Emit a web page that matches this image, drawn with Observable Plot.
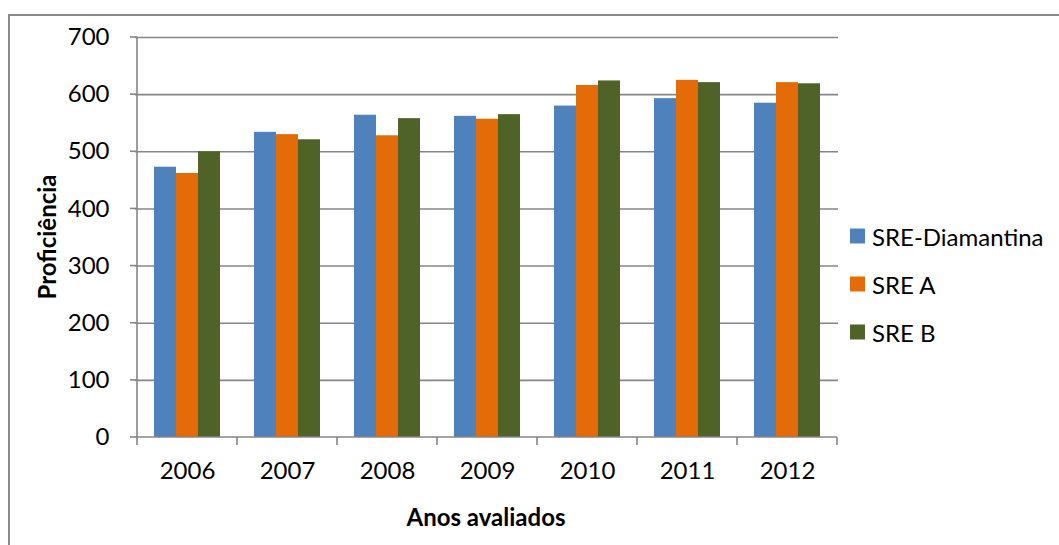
<!DOCTYPE html>
<html>
<head>
<meta charset="utf-8">
<script src="https://cdn.jsdelivr.net/npm/d3@7"></script>
<script src="https://cdn.jsdelivr.net/npm/@observablehq/plot@0.6"></script>
<style>
  html, body { margin: 0; padding: 0; background: #fff; }
  body { width: 1059px; height: 545px; position: relative; overflow: hidden; font-family: Lato, "Open Sans", sans-serif; }
  #border { position: absolute; left: 8px; top: 14px; width: 1200px; height: 700px; border-left: 2px solid #8a8a8a; border-top: 2px solid #8a8a8a; }
  #chart { position: absolute; left: 0; top: 0; }
  .ytitle { position: absolute; left: 46px; top: 237px; transform: translate(-50%, -50%) rotate(-90deg); font-weight: bold; font-size: 24px; white-space: nowrap; color: #000; }
  .xtitle { position: absolute; left: 486px; top: 516px; transform: translate(-50%, -50%); font-weight: bold; font-size: 24px; white-space: nowrap; color: #000; }
  .legend { position: absolute; left: 850px; top: 0; }
  .legend .item { position: absolute; left: 0; display: flex; align-items: center; white-space: nowrap; font-size: 24px; color: #000; transform: translateY(-50%); }
  .legend .sw { width: 15px; height: 15px; margin-right: 7px; }
</style>
</head>
<body>
<div id="border"></div>
<div id="chart"></div>
<div class="ytitle">Proficiência</div>
<div class="xtitle">Anos avaliados</div>
<div class="legend" id="legend"></div>
<script>
const years = ["2006", "2007", "2008", "2009", "2010", "2011", "2012"];
const seriesNames = ["SRE-Diamantina", "SRE A", "SRE B"];
const sreDiamantina = [473, 534, 564, 562, 580, 593, 585];
const sreA = [462, 530, 528, 557, 616, 625, 621];
const sreB = [500, 521, 558, 565, 624, 621, 619];
const colors = ["#4f81bd", "#e36c09", "#4f6228"];
const yTicks = [0, 100, 200, 300, 400, 500, 600, 700];

const seriesValues = [sreDiamantina, sreA, sreB];
const data = [];
years.forEach((y, i) => seriesNames.forEach((s, j) => data.push({year: y, series: s, value: seriesValues[j][i]})));

const W = 1059, H = 545;
const mL = 135, mR = 221, mT = 37, mB = 108;
const axisColor = "#868686";

function axesAndTicks(index, scales, values, dimensions) {
  const x = scales.x, y = scales.y;
  const step = x.step(), bw = x.bandwidth();
  const g = d3.create("svg:g").attr("stroke", axisColor).attr("stroke-width", 1.6).attr("fill", "none");
  const y0 = y(0), yTop = y(yTicks[yTicks.length - 1]);
  const left = x(years[0]) - (step - bw) / 2;
  const right = x(years[years.length - 1]) + bw + (step - bw) / 2;
  g.append("line").attr("x1", left).attr("x2", left).attr("y1", yTop).attr("y2", y0);
  g.append("line").attr("x1", left).attr("x2", right).attr("y1", y0).attr("y2", y0);
  for (const t of yTicks) {
    g.append("line").attr("x1", left - 7).attr("x2", left).attr("y1", y(t)).attr("y2", y(t));
  }
  for (let i = 0; i <= years.length; i++) {
    const bx = i < years.length ? x(years[i]) - (step - bw) / 2 : right;
    g.append("line").attr("x1", bx).attr("x2", bx).attr("y1", y0).attr("y2", y0 + 8);
  }
  return g.node();
}

const marks = [
  Plot.gridY(yTicks.filter(d => d > 0), {stroke: axisColor, strokeOpacity: 1, strokeWidth: 1.6}),
];
seriesNames.forEach((s, j) => {
  marks.push(Plot.barY(data.filter(d => d.series === s), {
    x: "year", y: "value", fill: colors[j], inset: 0,
    render(index, scales, values, dimensions, context, next) {
      const g = next(index, scales, values, dimensions, context);
      const bw = scales.x.bandwidth();
      g.setAttribute("transform", `translate(${(j - 1) * bw},0)`);
      return g;
    }
  }));
});
marks.push(axesAndTicks);
marks.push(Plot.axisY(yTicks, {tickSize: 0, tickPadding: 26, fontSize: 24, label: null, fill: "#000"}));
marks.push(Plot.axisX(years, {tickSize: 0, tickPadding: 24, fontSize: 24, label: null, fill: "#000"}));

const chart = Plot.plot({
  width: W, height: H,
  marginLeft: mL, marginRight: mR, marginTop: mT, marginBottom: mB,
  style: {fontFamily: "Lato, 'Open Sans', sans-serif", background: "transparent", color: "#000"},
  x: {domain: years, paddingInner: 1 - 22 / (703 / 7), paddingOuter: (1 - 22 / (703 / 7)) / 2, axis: null},
  y: {domain: [0, 700], axis: null},
  marks
});
document.getElementById("chart").appendChild(chart);

const legend = document.getElementById("legend");
const legendTops = [235.5, 283.5, 331.5];
seriesNames.forEach((s, j) => {
  const item = document.createElement("div");
  item.className = "item";
  item.style.top = legendTops[j] + "px";
  item.innerHTML = `<div class="sw" style="background:${colors[j]}"></div><span>${s}</span>`;
  legend.appendChild(item);
});
</script>
</body>
</html>
